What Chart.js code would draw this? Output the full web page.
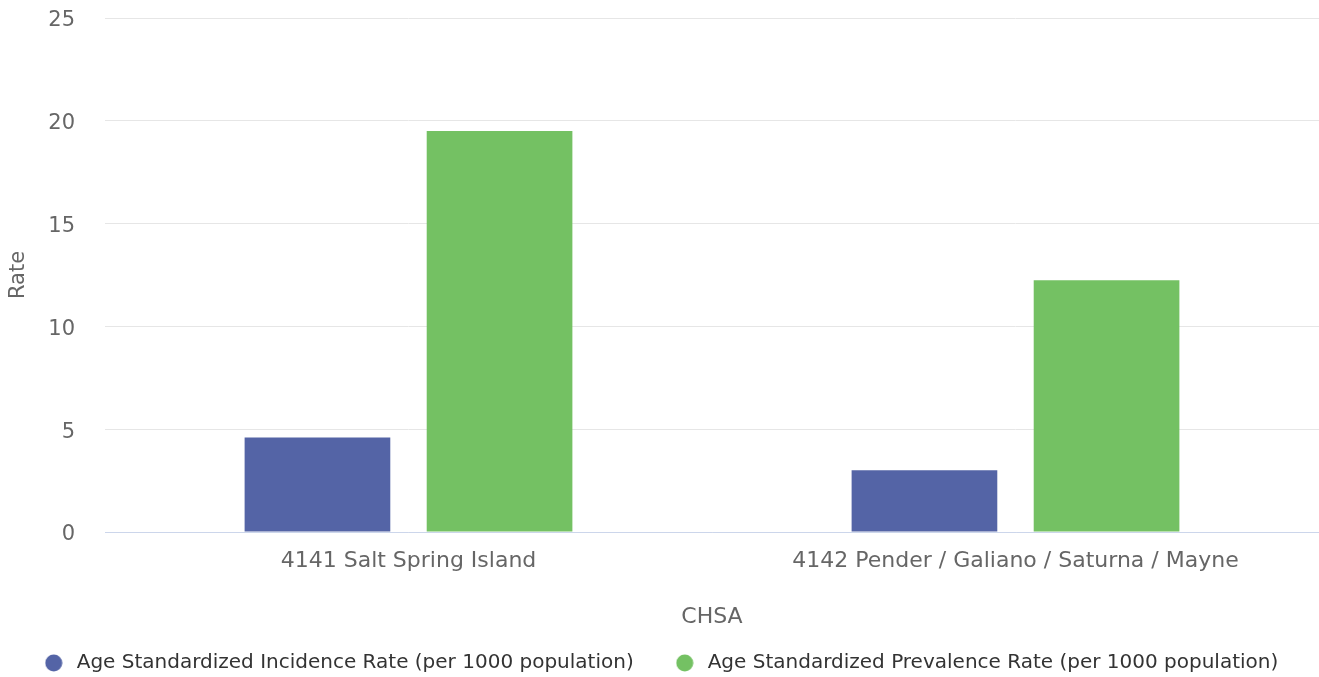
<!DOCTYPE html>
<html>
<head>
<meta charset="utf-8">
<script src="https://cdn.jsdelivr.net/npm/chart.js@4"></script>
<style>
html,body{margin:0;padding:0;background:#fff;}
#wrap{width:1319px;height:677px;position:relative;}
</style>
</head>
<body>
<div id="wrap"><canvas id="c"></canvas></div>
<script>
const categories = ["4141 Salt Spring Island", "4142 Pender / Galiano / Saturna / Mayne"];
const incidenceRate = [4.6, 3.0];
const prevalenceRate = [19.5, 12.25];
const seriesNames = ["Age Standardized Incidence Rate (per 1000 population)", "Age Standardized Prevalence Rate (per 1000 population)"];
const seriesColors = ["#5464a6", "#74c163"];
const yTicks = [0, 5, 10, 15, 20, 25];

const FONT = "'DejaVu Sans', Verdana, sans-serif";

function dot(color) {
  const c = document.createElement('canvas');
  c.width = 18; c.height = 18;
  const g = c.getContext('2d');
  g.fillStyle = color;
  g.beginPath(); g.arc(9, 9, 8.5, 0, Math.PI * 2); g.fill();
  return c;
}

const legendPlace = {
  id: 'legendPlace',
  afterLayout(chart) {
    const L = chart.legend;
    if (!L) return;
    const target = 663 - L.options.labels.padding - 10;
    L.top = target;
    L.bottom = chart.height;
    L.height = L.bottom - L.top;
  }
};

new Chart(document.getElementById('c'), {
  type: 'bar',
  data: {
    labels: categories,
    datasets: [
      { label: seriesNames[0], data: incidenceRate, backgroundColor: seriesColors[0], borderWidth: 0, pointStyle: dot(seriesColors[0]) },
      { label: seriesNames[1], data: prevalenceRate, backgroundColor: seriesColors[1], borderWidth: 0, pointStyle: dot(seriesColors[1]) }
    ]
  },
  plugins: [legendPlace],
  options: {
    responsive: true,
    maintainAspectRatio: false,
    animation: false,
    layout: { padding: { top: 18, right: 0, left: 0, bottom: 0 } },
    datasets: { bar: { categoryPercentage: 0.6, barPercentage: 0.8 } },
    plugins: {
      tooltip: { enabled: false },
      legend: {
        position: 'bottom',
        align: 'center',
        maxHeight: 47,
        labels: {
          usePointStyle: true,
          pointStyleWidth: 26,
          boxHeight: 18,
          padding: 38,
          color: '#333333',
          font: { family: FONT, size: 20 }
        }
      }
    },
    scales: {
      x: {
        grid: { display: false, drawTicks: false },
        border: { color: '#ccd6eb', width: 1 },
        ticks: { color: '#666666', font: { family: FONT, size: 22 }, padding: 16 },
        title: { display: true, text: 'CHSA', color: '#666666', font: { family: FONT, size: 22 }, padding: { top: 13, bottom: 0 } },
        afterFit: (axis) => { axis.height = 98; axis.paddingLeft = 0; axis.paddingRight = 0; }
      },
      y: {
        min: 0,
        max: 25,
        afterBuildTicks: (axis) => { axis.ticks = yTicks.map(v => ({ value: v })); },
        grid: { color: '#e6e6e6', drawTicks: false },
        border: { display: false },
        ticks: { color: '#666666', font: { family: FONT, size: 21 }, padding: 30, labelOffset: 3 },
        title: { display: true, text: 'Rate', color: '#666666', font: { family: FONT, size: 21 }, padding: { top: 6, bottom: 10 } },
        afterFit: (axis) => { axis.width = 105; axis.paddingTop = 0; axis.paddingBottom = 0; }
      }
    }
  }
});
</script>
</body>
</html>
